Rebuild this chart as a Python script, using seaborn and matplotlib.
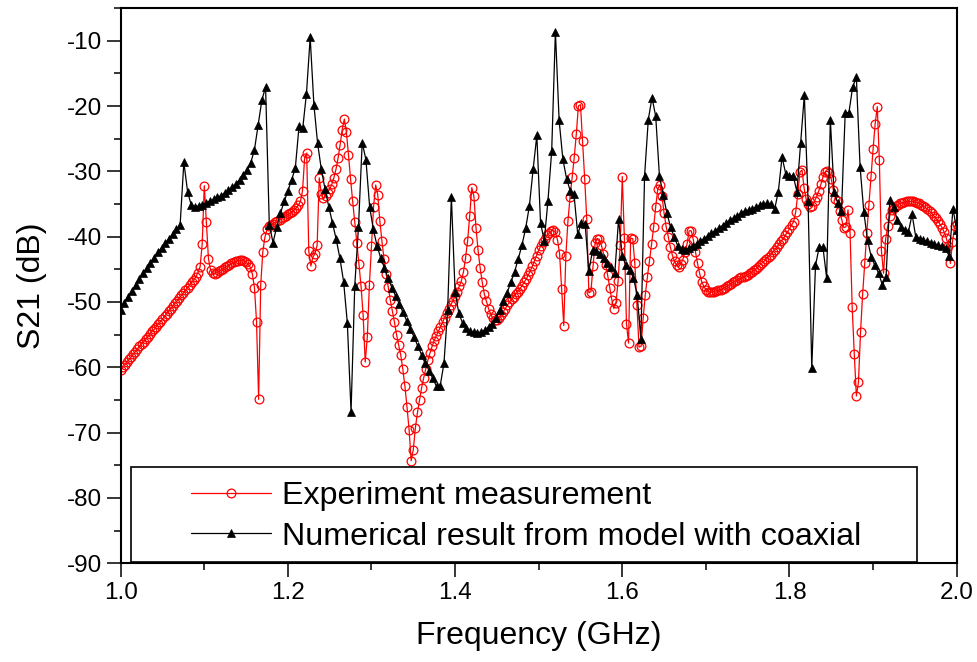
import numpy as np
import matplotlib
matplotlib.use("Agg")
import matplotlib.pyplot as plt
from matplotlib.patches import Rectangle
from matplotlib.ticker import MultipleLocator
import seaborn as sns

# S21, 1.0 - 2.0 GHz sweeps
# measurement: 401 points
meas_db = [
    -60.4, -60.0, -59.6, -59.2, -58.8, -58.4, -58.0, -57.6, -57.2, -56.8,
    -56.4, -56.1, -55.7, -55.3, -54.9, -54.5, -54.2, -53.8, -53.4, -53.0,
    -52.6, -52.2, -51.8, -51.4, -51.0, -50.6, -50.2, -49.8, -49.4, -49.0,
    -48.6, -48.2, -47.8, -47.4, -47.0, -46.6, -46.1, -45.5, -44.6, -41.1,
    -32.2, -37.8, -43.4, -45.1, -45.6, -45.7, -45.5, -45.3, -45.1, -44.9,
    -44.7, -44.5, -44.3, -44.1, -43.9, -43.8, -43.7, -43.6, -43.6, -43.7,
    -43.9, -44.2, -44.7, -45.7, -47.8, -53.0, -64.9, -47.4, -42.3, -40.1,
    -38.9, -38.4, -38.2, -38.0, -37.8, -37.6, -37.4, -37.2, -37.0, -36.8,
    -36.6, -36.4, -36.2, -35.9, -35.6, -35.2, -34.6, -33.0, -28.0, -27.2,
    -42.2, -44.5, -43.1, -42.6, -41.3, -31.0, -33.5, -34.1, -33.8, -33.3,
    -32.7, -32.0, -31.0, -29.7, -28.0, -25.9, -23.6, -22.0, -24.0, -27.5,
    -31.2, -34.6, -37.8, -40.9, -44.2, -47.6, -52.0, -59.2, -55.4, -47.4,
    -41.4, -35.4, -32.1, -33.6, -37.6, -40.7, -43.4, -45.7, -47.7, -49.7,
    -51.4, -53.1, -55.0, -56.6, -58.1, -60.3, -62.9, -66.1, -69.6, -74.3,
    -72.6, -69.3, -66.9, -65.0, -63.1, -61.6, -60.2, -58.9, -57.8, -56.8,
    -55.9, -55.2, -54.5, -53.8, -53.1, -52.4, -51.7, -51.0, -50.4, -49.8,
    -49.1, -48.4, -47.6, -46.8, -45.4, -43.3, -40.6, -36.8, -32.5, -33.8,
    -38.6, -42.1, -44.8, -47.0, -48.8, -49.9, -51.0, -51.8, -52.5, -52.8,
    -52.7, -52.4, -52.0, -51.5, -51.0, -50.5, -50.0, -49.6, -49.2, -48.8,
    -48.4, -48.0, -47.5, -47.0, -46.5, -45.9, -45.2, -44.5, -43.7, -42.9,
    -42.1, -41.4, -40.8, -40.3, -39.8, -39.4, -39.1, -39.0, -39.3, -40.5,
    -42.6, -48.0, -53.6, -42.9, -37.6, -34.0, -30.9, -27.9, -24.3, -20.0,
    -19.8, -25.4, -31.1, -37.3, -48.6, -48.4, -44.5, -41.0, -40.3, -40.4,
    -41.3, -42.6, -44.3, -45.9, -47.8, -49.7, -51.0, -50.1, -46.8, -41.3,
    -30.8, -40.2, -53.3, -56.3, -40.2, -40.3, -44.1, -50.4, -56.9, -56.8,
    -52.4, -48.9, -46.2, -43.7, -41.2, -38.5, -35.4, -32.7, -32.1, -33.8,
    -36.4, -38.5, -40.0, -41.6, -42.9, -43.8, -44.4, -44.6, -44.2, -43.5,
    -42.3, -41.1, -39.1, -39.1, -40.5, -42.3, -44.1, -45.6, -46.9, -47.6,
    -48.1, -48.4, -48.5, -48.5, -48.4, -48.3, -48.2, -48.1, -48.0, -47.8,
    -47.6, -47.4, -47.2, -47.0, -46.8, -46.6, -46.4, -46.2, -46.1, -46.0,
    -45.8, -45.6, -45.4, -45.1, -44.9, -44.6, -44.3, -44.0, -43.7, -43.4,
    -43.1, -42.8, -42.4, -42.0, -41.6, -41.1, -40.7, -40.3, -39.8, -39.3,
    -38.8, -38.2, -37.7, -36.2, -33.4, -30.1, -29.8, -32.6, -34.3, -35.0,
    -35.4, -35.3, -34.5, -33.9, -33.0, -32.0, -30.9, -30.1, -30.0, -30.2,
    -31.2, -32.9, -34.3, -34.6, -36.0, -37.4, -38.6, -38.5, -35.9, -39.5,
    -50.8, -57.9, -64.4, -62.3, -54.6, -48.8, -44.0, -39.4, -35.1, -30.7,
    -26.6, -22.7, -20.1, -28.2, -42.2, -45.6, -40.4, -38.4, -36.8, -35.9,
    -35.6, -35.3, -35.1, -34.9, -34.8, -34.7, -34.6, -34.6, -34.6, -34.6,
    -34.7, -34.8, -34.9, -35.1, -35.3, -35.5, -35.8, -36.1, -36.4, -36.8,
    -37.2, -37.6, -38.1, -38.6, -39.3, -40.2, -41.5, -44.1, -40.8, -38.4,
    -38.0,
]

# simulation (model with coaxial): 226 points
sim_db = [
    -51.2, -50.2, -49.2, -48.3, -47.4, -46.5, -45.6, -44.8, -44.0, -43.2,
    -42.4, -41.7, -41.0, -40.3, -39.6, -38.9, -38.2, -28.6, -33.1, -35.2,
    -35.4, -35.3, -35.1, -34.9, -34.6, -34.3, -34.0, -33.7, -33.3, -32.9,
    -32.4, -31.9, -31.3, -30.6, -29.8, -28.7, -26.7, -22.9, -19.1, -17.1,
    -38.2, -40.9, -38.5, -36.4, -34.6, -33.0, -31.3, -29.5, -23.1, -23.4,
    -18.1, -9.5, -19.8, -25.7, -29.7, -32.7, -35.4, -37.9, -40.4, -43.3,
    -46.9, -53.2, -66.8, -47.5, -38.5, -25.6, -28.2, -35.4, -38.9, -41.4,
    -43.3, -44.8, -46.4, -47.8, -49.1, -50.3, -51.6, -52.9, -54.2, -55.4,
    -56.8, -58.1, -59.4, -60.5, -61.7, -62.9, -62.8, -59.4, -51.2, -33.9,
    -48.4, -51.7, -53.2, -54.0, -54.5, -54.6, -54.7, -54.6, -54.3, -53.8,
    -53.3, -52.5, -51.3, -49.9, -48.6, -47.0, -45.4, -43.4, -41.3, -38.7,
    -35.3, -29.7, -24.5, -37.9, -40.6, -34.5, -26.9, -8.6, -22.2, -28.1,
    -31.1, -33.0, -33.5, -39.6, -37.9, -38.1, -45.3, -42.1, -42.2, -42.6,
    -43.3, -44.1, -44.7, -45.5, -37.3, -43.0, -44.4, -45.1, -46.3, -48.9,
    -55.7, -30.7, -22.1, -18.7, -21.6, -30.7, -33.6, -36.4, -38.5, -40.1,
    -41.5, -41.9, -42.0, -41.8, -41.5, -41.1, -40.7, -40.3, -39.9, -39.5,
    -39.1, -38.7, -38.3, -37.9, -37.5, -37.1, -36.8, -36.4, -36.1, -35.9,
    -35.7, -35.5, -35.2, -35.0, -34.9, -35.0, -35.8, -33.1, -27.8, -30.4,
    -30.7, -30.7, -33.1, -25.7, -18.3, -34.5, -60.1, -44.4, -41.6, -41.6,
    -46.3, -22.1, -33.2, -34.8, -36.0, -21.0, -21.0, -17.1, -15.6, -29.3,
    -36.2, -40.5, -43.1, -44.4, -45.6, -47.4, -46.1, -34.4, -35.4, -37.4,
    -38.5, -39.0, -39.3, -36.6, -40.1, -40.3, -40.5, -40.7, -40.9, -41.1,
    -41.3, -41.5, -41.8, -43.0, -35.7, -39.0,
]

freq_meas = np.linspace(1.0, 2.0, len(meas_db))
freq_sim = np.linspace(1.0, 2.0, len(sim_db))

sns.set_theme(style="ticks")
plt.rcParams['font.family'] = ['Liberation Sans', 'DejaVu Sans']
plt.rcParams['axes.unicode_minus'] = False
plt.rcParams['text.color'] = 'black'
plt.rcParams['axes.labelcolor'] = 'black'

fig = plt.figure(figsize=(9.78, 6.62), dpi=100)
ax = fig.add_axes([0.1234, 0.1491, 0.8548, 0.8388])

sns.lineplot(x=freq_meas, y=meas_db, ax=ax, color='red', lw=0.9,
             marker='o', ms=6.3, mfc='none', mec='red', mew=0.9,
             label='Experiment measurement', estimator=None, sort=False)
sns.lineplot(x=freq_sim, y=sim_db, ax=ax, color='black', lw=0.9,
             marker='^', ms=5.8, mfc='black', mec='black', mew=0.5,
             label='Numerical result from model with coaxial',
             estimator=None, sort=False)

ax.set_xlim(1.0, 2.0)
ax.set_ylim(-90, -5)
ax.xaxis.set_major_locator(MultipleLocator(0.2))
ax.xaxis.set_minor_locator(MultipleLocator(0.1))
ax.yaxis.set_major_locator(MultipleLocator(10))
ax.yaxis.set_minor_locator(MultipleLocator(5))
ax.tick_params(which='major', direction='out', length=10, width=1.1,
               labelsize=17.5, color='black', labelcolor='black')
ax.tick_params(which='minor', direction='out', length=5, width=1.1, color='black')
for sp in ax.spines.values():
    sp.set_linewidth(1.5)
    sp.set_color('black')

ax.set_xlabel('Frequency (GHz)', fontsize=23, labelpad=12)
ax.set_ylabel('S21 (dB)', fontsize=23, labelpad=14)

# legend box (white, square corners) drawn as a patch, entries on top
box = Rectangle((0.0123, 0.0023), 0.9402, 0.1711, transform=ax.transAxes,
                facecolor='white', edgecolor='black', lw=1.2, zorder=3)
ax.add_patch(box)
leg = ax.legend(loc='center left', bbox_to_anchor=(0.0836, 0.0845),
                frameon=False, fontsize=23.2, handlelength=2.5,
                handletextpad=0.33, labelspacing=0.32, borderpad=0,
                borderaxespad=0)
for t in leg.get_texts():
    t.set_color('black')
leg.set_zorder(5)

fig.savefig('out.png', dpi=100)
